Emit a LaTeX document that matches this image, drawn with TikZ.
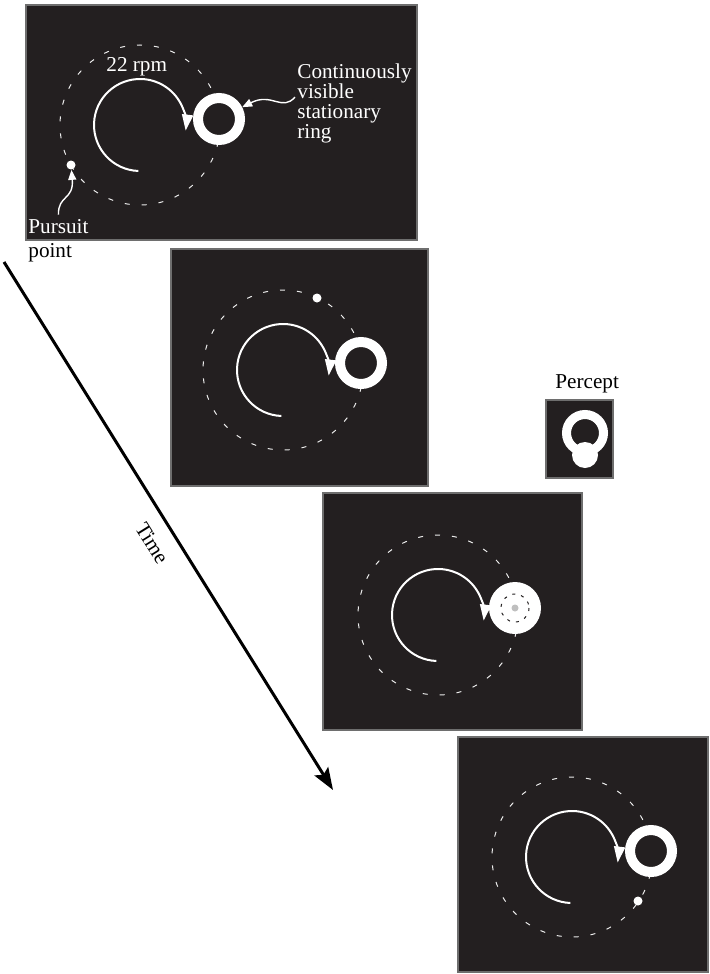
\documentclass[tikz,border=0pt]{standalone}
\usepackage{fontspec}
\setmainfont{Liberation Serif}
\usetikzlibrary{arrows.meta}

\definecolor{screen}{RGB}{35,31,32}
\definecolor{screenrim}{RGB}{110,110,110}

\begin{document}
\begin{tikzpicture}[x=0.5pt, y=-0.5pt,
  font=\fontsize{10.6}{10}\selectfont,
  screenbox/.style={fill=screen, draw=screenrim, line width=0.6pt},
  track/.style={white!85!gray, line width=0.5pt, dash pattern=on 2.5pt off 6pt},
  spin/.style={white, line width=1pt, -{Triangle[length=8pt, width=5.5pt]}},
  pointer/.style={white, line width=0.7pt, -{Triangle[length=5pt, width=4pt]}},
  ring/.style={circle, draw=white, fill=screen, line width=5pt, minimum size=21pt, inner sep=0pt},
  dot/.style={circle, fill=white, minimum size=4.5pt, inner sep=0pt},
  note/.style={inner sep=0pt, align=left},
]
\useasboundingbox (0,0) rectangle (710,974);

% time axis
\coordinate (t0) at (4,262);
\coordinate (t1) at (333,790);
\draw[line width=1.5pt, -{Stealth[length=11pt, width=8pt, inset=2pt]}] (t0) -- node[pos=0.51, sloped, below=4pt] (time) {Time} (t1);

% first screen
\draw[screenbox] (26,5) rectangle (417,240);
\draw[track] (140,125) circle[radius=80];
\draw[spin] (140,125) ++(268:23pt) arc[start angle=268, end angle=-7, radius=23pt];
\node[ring] (ring1) at (219,119) {};
\node[dot] (dot1) at (71,165) {};
\node[note, white, anchor=base west] (rpm) at (106,72) {22 rpm};
\node[note, white, anchor=north west] (ringnote) at (297,63) {Continuously\\visible\\stationary\\ring};
\node[note, white, anchor=base west] (pursuit) at (28,233) {Pursuit};
\node[note, anchor=base west] (pursuit2) at (28,257) {point};
\draw[pointer] ([yshift=2pt]pursuit.north) .. controls (58,195) and (74,200) .. (dot1);
\draw[pointer] ([xshift=-1pt, yshift=3pt]ringnote.west) .. controls (282,112) and (272,92) .. (ring1);

% second screen
\draw[screenbox] (171,249) rectangle (428,486);
\draw[track] (283,370) circle[radius=80];
\draw[spin] (283,370) ++(268:23pt) arc[start angle=268, end angle=-7, radius=23pt];
\node[ring] (ring2) at (361,363) {};
\node[dot] (dot2) at (317,298) {};

% third screen, ring filled in
\draw[screenbox] (323,493) rectangle (582,730);
\draw[track] (438,615) circle[radius=80];
\draw[spin] (438,615) ++(268:23pt) arc[start angle=268, end angle=-7, radius=23pt];
\node[circle, fill=white, minimum size=26pt, inner sep=0pt] (disk3) at (515,608) {};
\draw[screen, line width=0.5pt, dash pattern=on 1.5pt off 3pt] (disk3) circle[radius=14];
\node[circle, fill=black!25, minimum size=3.5pt, inner sep=0pt] (core3) at (disk3) {};

% fourth screen
\draw[screenbox] (458,737) rectangle (708,972);
\draw[track] (572,857) circle[radius=80];
\draw[spin] (572,857) ++(268:23pt) arc[start angle=268, end angle=-7, radius=23pt];
\node[ring] (ring4) at (651,851) {};
\node[dot] (dot4) at (638,901) {};

% percept
\node[note, anchor=base west] (percept) at (555,388) {Percept};
\draw[screenbox] (546,400) rectangle (613,478);
\draw[white, line width=4.5pt] (585,433) circle[radius=18.5];
\fill[white] (585,455) circle[radius=13];

\end{tikzpicture}
\end{document}
